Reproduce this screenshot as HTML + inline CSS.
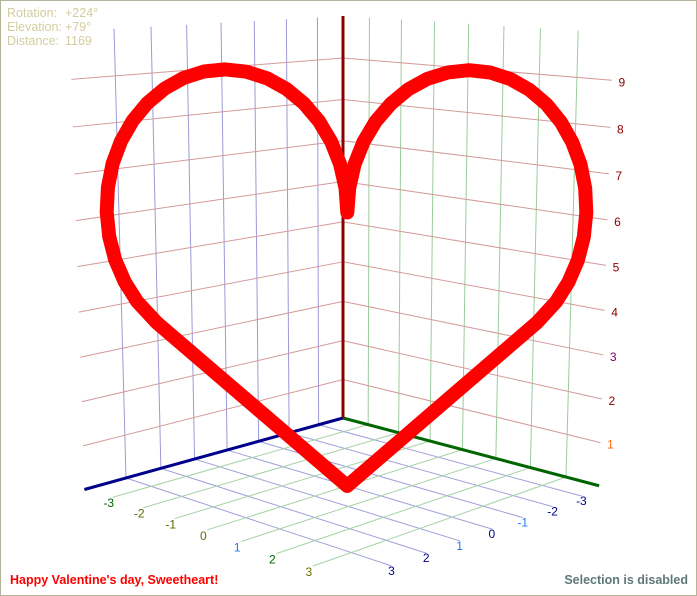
<!DOCTYPE html>
<html><head><meta charset="utf-8"><style>
html,body{margin:0;padding:0;background:#fff;}
#wrap{position:relative;width:695px;height:594px;border:1px solid #b4b49a;overflow:hidden;font-family:"Liberation Sans",Arial,sans-serif;}
#info{position:absolute;left:6px;top:5px;font-size:12.5px;line-height:14px;color:#d2cd9e;}
#info span{display:inline-block;width:58px;}
#msg{position:absolute;left:9px;top:572px;font-size:12.5px;font-weight:bold;color:#ff0000;}
#sel{position:absolute;right:8px;top:572px;font-size:12.5px;font-weight:bold;color:#5f7878;}
svg{position:absolute;left:0;top:0;}
</style></head><body>
<div id="wrap">
<div id="info">
<div><span>Rotation:</span>+224°</div>
<div><span>Elevation:</span>+79°</div>
<div><span>Distance:</span>1169</div>
</div>
<svg id="chart" width="695" height="594"></svg>
<div id="msg">Happy Valentine's day, Sweetheart!</div>
<div id="sel">Selection is disabled</div>
</div>
<script>
// ---- data ----
var xTicks = [-3,-2,-1,0,1,2,3];
var yTicks = [-3,-2,-1,0,1,2,3];
var zTicks = [1,2,3,4,5,6,7,8,9];
var xTickLabels = ["-3","-2","-1","0","1","2","3"];
var yTickLabels = ["-3","-2","-1","0","1","2","3"];
var zTickLabels = ["1","2","3","4","5","6","7","8","9"];
// heart curve (right half, cusp -> top -> outer -> tangent point -> tip); left half mirrors it
var heartH = [0,0.027,0.107,0.238,0.416,0.636,0.890,1.172,1.471,1.780,2.090,2.389,2.670,2.925,3.144,3.322,3.454,3.533,3.560,3.533,3.454,3.322,3.144,2.858,0];
var heartZ = [6.149,6.680,7.192,7.674,8.110,8.485,8.790,9.016,9.153,9.199,9.153,9.016,8.790,8.485,8.110,7.674,7.192,6.680,6.149,5.618,5.106,4.624,4.188,3.718,0];

// ---- camera ----
var G0=-3.85, G1=4.06, AXEND_X=4.15, AXEND_Y=3.9, ZTOP=10;
function solve(A,b){var n=b.length;for(var i=0;i<n;i++){var p=i;for(var r=i+1;r<n;r++)if(Math.abs(A[r][i])>Math.abs(A[p][i]))p=r;var t=A[i];A[i]=A[p];A[p]=t;var tb=b[i];b[i]=b[p];b[p]=tb;for(var r2=i+1;r2<n;r2++){var f=A[r2][i]/A[i][i];for(var c=i;c<n;c++)A[r2][c]-=f*A[i][c];b[r2]-=f*b[i];}}var x=new Array(n);for(var i2=n-1;i2>=0;i2--){var s=b[i2];for(var c2=i2+1;c2<n;c2++)s-=A[i2][c2]*x[c2];x[i2]=s/A[i2][i2];}return x;}
var src=[[G0,G0],[3,G0],[G0,3],[G1,G1]], dst=[[342,417],[125,477],[565,476],[352,579]];
var A=[],B=[];
for(var i=0;i<4;i++){var x=src[i][0],y=src[i][1],u=dst[i][0],v=dst[i][1];
A.push([x,y,1,0,0,0,-u*x,-u*y]);B.push(u);A.push([0,0,0,x,y,1,-v*x,-v*y]);B.push(v);}
var H=solve(A,B);
var VX=342,VY=8630;
var W0=H[6]*G0+H[7]*G0+1, Y0=H[3]*G0+H[4]*G0+H[5];
var LAM=(57*W0-Y0)/(9*VY-513);
function proj(b,g,z){var X=H[0]*b+H[1]*g+H[2]+z*LAM*VX,Y=H[3]*b+H[4]*g+H[5]+z*LAM*VY,W=H[6]*b+H[7]*g+1+z*LAM;return [X/W,Y/W];}

var svg=document.getElementById('chart'),NS='http://www.w3.org/2000/svg';
function line(p,q,col,w,name){var l=document.createElementNS(NS,'line');l.setAttribute('x1',p[0]);l.setAttribute('y1',p[1]);l.setAttribute('x2',q[0]);l.setAttribute('y2',q[1]);l.setAttribute('stroke',col);l.setAttribute('stroke-width',w);


svg.appendChild(l);return l;}
function text(p,s,col,anchor,name){var t=document.createElementNS(NS,'text');t.setAttribute('x',p[0]);t.setAttribute('y',p[1]);t.setAttribute('fill',col);t.setAttribute('font-size','12');t.setAttribute('font-family','"Liberation Sans",Arial,sans-serif');t.setAttribute('text-anchor',anchor);t.setAttribute('dominant-baseline','central');t.textContent=s;


svg.appendChild(t);}

xTicks.forEach(function(b){line(proj(b,G0,0),proj(b,G0,ZTOP),'#9a9ad6',1,'x-wall-gridline');});
yTicks.forEach(function(g){line(proj(G0,g,0),proj(G0,g,ZTOP),'#9acc9a',1,'y-wall-gridline');});
zTicks.forEach(function(z){line(proj(AXEND_X,G0,z),proj(G0,G0,z),'#d49a9a',1,'z-gridline-left');line(proj(G0,G0,z),proj(G0,AXEND_Y,z),'#d49a9a',1,'z-gridline-right');});
xTicks.forEach(function(b){line(proj(b,G0,0),proj(b,G1,0),'#a0a0dc',1,'x-floor-gridline');});
yTicks.forEach(function(g){line(proj(G0,g,0),proj(G1,g,0),'#a6d2a6',1,'y-floor-gridline');});
line(proj(G0,G0,0),proj(AXEND_X,G0,0),'#00008b',3,'x-axis');
line(proj(G0,G0,0),proj(G0,AXEND_Y,0),'#006400',3,'y-axis');
line(proj(G0,G0,0),proj(G0,G0,ZTOP),'#8b0000',3,'z-axis');
var xCols=['#00008b','#00008b','#1e78ff','#00008b','#1e78ff','#00008b','#00008b'];
var yCols=['#006400','#556b00','#556b00','#6b6b00','#1e78ff','#006400','#6b6b00'];
xTicks.forEach(function(b,i){var p=proj(b,G1,0);text([p[0],p[1]+5],xTickLabels[i],xCols[i],'middle','x-tick-label');});
yTicks.forEach(function(g,i){var p=proj(G1,g,0);text([p[0]-4,p[1]+6],yTickLabels[i],yCols[i],'middle','y-tick-label');});
zTicks.forEach(function(z,i){var p=proj(G0,AXEND_Y,z);text([p[0]+10,p[1]+2],zTickLabels[i],i==0?'#ff6a00':(i==2?'#800060':'#8b0000'),'middle','z-tick-label');});

function hp(h,z){return proj(-h,h,z);}
var pts=[];
for(var k=0;k<heartH.length;k++){pts.push(hp(-heartH[k],heartZ[k]));}
for(var k2=heartH.length-2;k2>=0;k2--){pts.push(hp(heartH[k2],heartZ[k2]));}
var pl=document.createElementNS(NS,'polyline');
pl.setAttribute('points',pts.map(function(p){return p[0].toFixed(1)+','+p[1].toFixed(1);}).join(' '));
pl.setAttribute('fill','none');pl.setAttribute('stroke','#ff0000');pl.setAttribute('stroke-width','14');pl.setAttribute('stroke-linejoin','round');pl.setAttribute('stroke-linecap','round');


svg.appendChild(pl);
</script>
</body></html>
